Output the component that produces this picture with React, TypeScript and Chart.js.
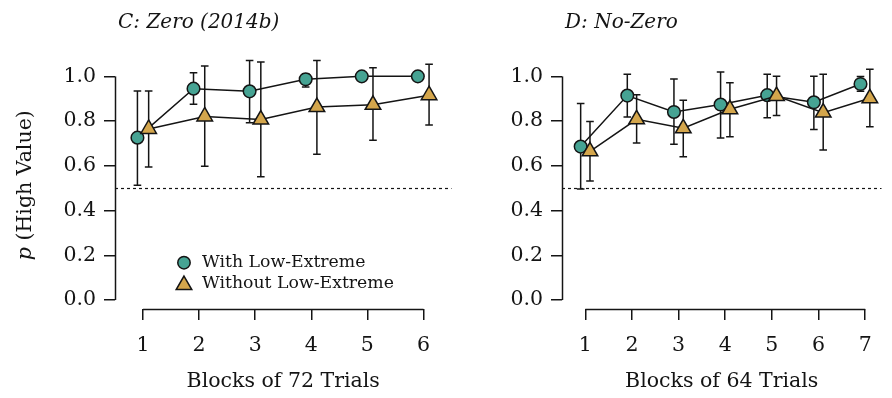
import React, { useEffect, useRef } from "react";
import { Chart, registerables } from "chart.js";

Chart.register(...registerables);

const FONT = "'DejaVu Serif', serif";
const TEAL = "#46a393";
const GOLD = "#d4a64c";
const INK = "#141414";

// Panel C: Zero (2014b) — proportion of high-value choices per block
const zeroBlocks = [1, 2, 3, 4, 5, 6];
const zeroWithMean = [0.726, 0.945, 0.933, 0.987, 1.0, 1.0];
const zeroWithLo = [0.513, 0.875, 0.793, 0.952, 1.0, 1.0];
const zeroWithHi = [0.935, 1.016, 1.071, 1.012, 1.0, 1.0];
const zeroWithoutMean = [0.765, 0.821, 0.807, 0.863, 0.873, 0.916];
const zeroWithoutLo = [0.595, 0.598, 0.551, 0.652, 0.714, 0.783];
const zeroWithoutHi = [0.935, 1.046, 1.064, 1.071, 1.039, 1.054];

// Panel D: No-Zero
const noZeroBlocks = [1, 2, 3, 4, 5, 6, 7];
const noZeroWithMean = [0.686, 0.914, 0.841, 0.874, 0.916, 0.884, 0.966];
const noZeroWithLo = [0.496, 0.818, 0.696, 0.724, 0.815, 0.763, 0.933];
const noZeroWithHi = [0.879, 1.01, 0.988, 1.019, 1.01, 1.0, 0.999];
const noZeroWithoutMean = [0.665, 0.808, 0.768, 0.853, 0.912, 0.838, 0.902];
const noZeroWithoutLo = [0.532, 0.702, 0.641, 0.73, 0.825, 0.671, 0.775];
const noZeroWithoutHi = [0.798, 0.918, 0.893, 0.972, 1.001, 1.009, 1.032];

const yTicks = [0, 0.2, 0.4, 0.6, 0.8, 1.0];
const chanceLevel = 0.5;
const seriesLabels = ["With Low-Extreme", "Without Low-Extreme"];

// horizontal dodge so the two conditions don't sit on top of each other
const DODGE = 0.1;
const Y_MIN = -0.04;
const Y_MAX = 1.1;
const LW = 1.5;

type PanelSpec = {
  title: string;
  xTitle: string;
  blocks: number[];
  withMean: number[];
  withLo: number[];
  withHi: number[];
  withoutMean: number[];
  withoutLo: number[];
  withoutHi: number[];
  xMax: number;
  yAxisWidth: number;
  padRight: number;
  showYTitle: boolean;
  showLegend: boolean;
};

function drawTriangle(ctx: CanvasRenderingContext2D, x: number, y: number, r: number) {
  ctx.beginPath();
  for (let k = 0; k < 3; k++) {
    const a = (k * 2 * Math.PI) / 3;
    const px = x + Math.sin(a) * r;
    const py = y - Math.cos(a) * r;
    if (k === 0) ctx.moveTo(px, py);
    else ctx.lineTo(px, py);
  }
  ctx.closePath();
}

function buildConfig(p: PanelSpec): any {
  const bars = [
    { lo: p.withoutLo, hi: p.withoutHi },
    { lo: p.withLo, hi: p.withHi },
  ];

  const decor = {
    id: "panelDecor",
    beforeDatasetsDraw(chart: any) {
      const { ctx, chartArea } = chart;
      const ys = chart.scales.y;
      ctx.save();
      // chance line
      ctx.strokeStyle = INK;
      ctx.lineWidth = 1.2;
      ctx.setLineDash([3, 3]);
      const yc = Math.round(ys.getPixelForValue(chanceLevel)) + 0.5;
      ctx.beginPath();
      ctx.moveTo(chartArea.left, yc);
      ctx.lineTo(chartArea.right, yc);
      ctx.stroke();
      ctx.setLineDash([]);

      // error bars
      ctx.lineWidth = LW;
      bars.forEach((b, i) => {
        const meta = chart.getDatasetMeta(i);
        meta.data.forEach((pt: any, j: number) => {
          if (b.hi[j] - b.lo[j] < 1e-6) return;
          const x = pt.x;
          const y1 = ys.getPixelForValue(b.lo[j]);
          const y2 = ys.getPixelForValue(b.hi[j]);
          ctx.beginPath();
          ctx.moveTo(x, y1);
          ctx.lineTo(x, y2);
          ctx.moveTo(x - 3.8, y1);
          ctx.lineTo(x + 3.8, y1);
          ctx.moveTo(x - 3.8, y2);
          ctx.lineTo(x + 3.8, y2);
          ctx.stroke();
        });
      });
      ctx.restore();
    },
    afterDraw(chart: any) {
      const { ctx, chartArea } = chart;
      const xs = chart.scales.x;
      const ys = chart.scales.y;
      ctx.save();
      ctx.strokeStyle = INK;
      ctx.lineWidth = LW;
      // detached axis lines
      const ax = Math.round(chartArea.left) + 0.5;
      ctx.beginPath();
      ctx.moveTo(ax, ys.getPixelForValue(0));
      ctx.lineTo(ax, ys.getPixelForValue(1));
      ctx.stroke();
      const ay = Math.round(chartArea.bottom) + 0.5;
      ctx.beginPath();
      ctx.moveTo(xs.getPixelForValue(p.blocks[0]), ay);
      ctx.lineTo(xs.getPixelForValue(p.blocks[p.blocks.length - 1]), ay);
      ctx.stroke();

      // panel title
      ctx.fillStyle = INK;
      ctx.font = `italic 20px ${FONT}`;
      ctx.textBaseline = "alphabetic";
      ctx.textAlign = "left";
      ctx.fillText(p.title, chartArea.left + 3, 28);

      // y-axis title: italic p followed by upright text
      if (p.showYTitle) {
        const yMid = (ys.getPixelForValue(0) + ys.getPixelForValue(1)) / 2 - 3;
        ctx.translate(26, yMid);
        ctx.rotate(-Math.PI / 2);
        ctx.textBaseline = "middle";
        ctx.font = `italic 20.5px ${FONT}`;
        const w1 = ctx.measureText("p").width;
        ctx.font = `20.5px ${FONT}`;
        const rest = " (High Value)";
        const w2 = ctx.measureText(rest).width;
        const start = -(w1 + w2) / 2;
        ctx.font = `italic 20.5px ${FONT}`;
        ctx.fillText("p", start, 0);
        ctx.font = `20.5px ${FONT}`;
        ctx.fillText(rest, start + w1, 0);
        ctx.setTransform(1, 0, 0, 1, 0, 0);
      }

      // legend
      if (p.showLegend) {
        const lx = xs.getPixelForValue(1.73);
        const rows = [0.167, 0.076].map((v) => ys.getPixelForValue(v));
        ctx.lineWidth = LW;
        ctx.strokeStyle = INK;
        ctx.beginPath();
        ctx.arc(lx, rows[0], 6.2, 0, Math.PI * 2);
        ctx.fillStyle = TEAL;
        ctx.fill();
        ctx.stroke();
        drawTriangle(ctx, lx, rows[1] + 2, 9);
        ctx.fillStyle = GOLD;
        ctx.fill();
        ctx.stroke();
        ctx.fillStyle = INK;
        ctx.font = `17.3px ${FONT}`;
        ctx.textBaseline = "middle";
        ctx.fillText(seriesLabels[0], lx + 18, rows[0]);
        ctx.fillText(seriesLabels[1], lx + 18, rows[1]);
      }
      ctx.restore();
    },
  };

  return {
    type: "scatter",
    data: {
      datasets: [
        {
          label: seriesLabels[1],
          data: p.blocks.map((b, j) => ({ x: b + DODGE, y: p.withoutMean[j] })),
          showLine: true,
          borderColor: INK,
          borderWidth: LW,
          pointStyle: "triangle",
          pointRadius: 9,
          pointBackgroundColor: GOLD,
          pointBorderColor: INK,
          pointBorderWidth: LW,
          order: 0,
        },
        {
          label: seriesLabels[0],
          data: p.blocks.map((b, j) => ({ x: b - DODGE, y: p.withMean[j] })),
          showLine: true,
          borderColor: INK,
          borderWidth: LW,
          pointStyle: "circle",
          pointRadius: 6.3,
          pointBackgroundColor: TEAL,
          pointBorderColor: INK,
          pointBorderWidth: LW,
          order: 1,
        },
      ],
    },
    options: {
      animation: false,
      responsive: false,
      devicePixelRatio: 1,
      clip: false,
      layout: { padding: { top: 54, right: p.padRight, left: 0, bottom: 0 } },
      plugins: {
        legend: { display: false },
        tooltip: { enabled: false },
        title: { display: false },
      },
      scales: {
        x: {
          type: "linear",
          min: 0.5,
          max: p.xMax,
          afterBuildTicks: (s: any) => {
            s.ticks = p.blocks.map((v) => ({ value: v }));
          },
          afterFit: (s: any) => {
            s.height = 89;
          },
          ticks: {
            font: { family: FONT, size: 20.5 },
            color: INK,
            padding: 13,
            maxRotation: 0,
            autoSkip: false,
            callback: (v: any) => String(v),
          },
          grid: {
            display: true,
            drawOnChartArea: false,
            drawTicks: true,
            tickLength: 11,
            color: INK,
            lineWidth: LW,
          },
          border: { display: false },
          title: {
            display: true,
            text: p.xTitle,
            font: { family: FONT, size: 20.5 },
            color: INK,
            padding: { top: 0, bottom: 4 },
          },
        },
        y: {
          type: "linear",
          min: Y_MIN,
          max: Y_MAX,
          afterBuildTicks: (s: any) => {
            s.ticks = yTicks.map((v) => ({ value: v }));
          },
          afterFit: (s: any) => {
            s.width = p.yAxisWidth;
          },
          ticks: {
            font: { family: FONT, size: 20.5 },
            color: INK,
            padding: 8,
            callback: (v: any) => Number(v).toFixed(1),
          },
          grid: {
            display: true,
            drawOnChartArea: false,
            drawTicks: true,
            tickLength: 11,
            color: INK,
            lineWidth: LW,
          },
          border: { display: false },
        },
      },
    },
    plugins: [decor],
  };
}

function Panel({ spec, left, width }: { spec: PanelSpec; left: number; width: number }) {
  const ref = useRef<HTMLCanvasElement>(null);
  useEffect(() => {
    const chart = new Chart(ref.current as HTMLCanvasElement, buildConfig(spec));
    return () => chart.destroy();
  }, []);
  return (
    <canvas
      ref={ref}
      width={width}
      height={398}
      style={{ position: "absolute", left, top: 0, width, height: 398 }}
    />
  );
}

const zeroPanel: PanelSpec = {
  title: "C: Zero (2014b)",
  xTitle: "Blocks of 72 Trials",
  blocks: zeroBlocks,
  withMean: zeroWithMean,
  withLo: zeroWithLo,
  withHi: zeroWithHi,
  withoutMean: zeroWithoutMean,
  withoutLo: zeroWithoutLo,
  withoutHi: zeroWithoutHi,
  xMax: 6.5,
  yAxisWidth: 115,
  padRight: 5.5,
  showYTitle: true,
  showLegend: true,
};

const noZeroPanel: PanelSpec = {
  title: "D: No-Zero",
  xTitle: "Blocks of 64 Trials",
  blocks: noZeroBlocks,
  withMean: noZeroWithMean,
  withLo: noZeroWithLo,
  withHi: noZeroWithHi,
  withoutMean: noZeroWithoutMean,
  withoutLo: noZeroWithoutLo,
  withoutHi: noZeroWithoutHi,
  xMax: 7.35,
  yAxisWidth: 100,
  padRight: 0,
  showYTitle: false,
  showLegend: false,
};

export default function App() {
  return (
    <div
      style={{
        position: "absolute",
        left: 0,
        top: 0,
        width: 892,
        height: 398,
        background: "#ffffff",
        overflow: "hidden",
      }}
    >
      <Panel spec={zeroPanel} left={0} width={462} />
      <Panel spec={noZeroPanel} left={462} width={430} />
    </div>
  );
}
